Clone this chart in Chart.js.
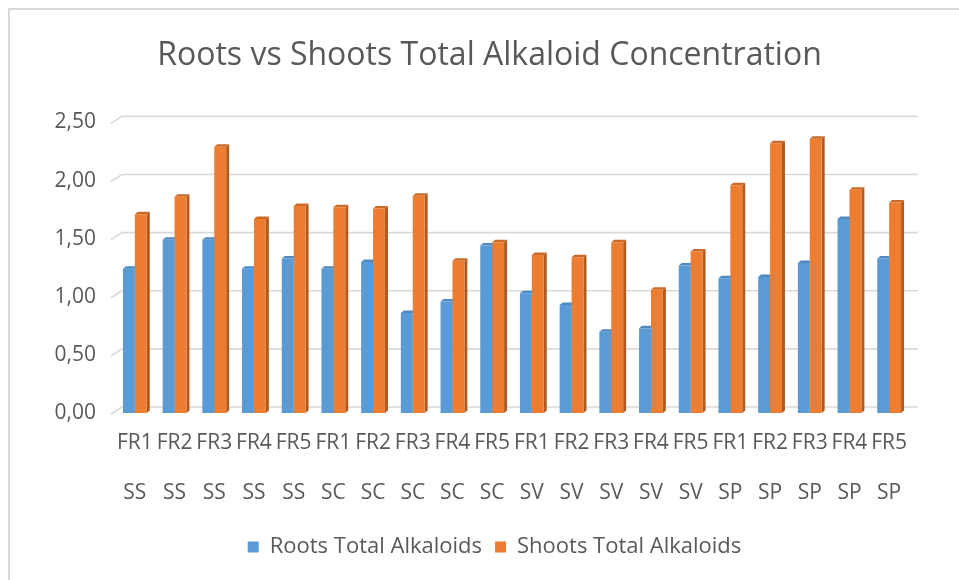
<!DOCTYPE html>
<html>
<head>
<meta charset="utf-8">
<title>Roots vs Shoots Total Alkaloid Concentration</title>
<script src="https://cdn.jsdelivr.net/npm/chart.js@4/dist/chart.umd.min.js"></script>
<style>
  html, body { margin: 0; padding: 0; background: #ffffff; overflow: hidden; }
  #wrap { position: relative; width: 959px; height: 580px; }
  #frame { position: absolute; left: 8px; top: 8px; width: 2000px; height: 2000px;
           border-left: 2px solid #d9d9d9; border-top: 2px solid #d9d9d9; }
  canvas { position: absolute; left: 0; top: 0; }
</style>
</head>
<body>
<div id="wrap">
  <div id="frame"></div>
  <canvas id="chart" width="959" height="580"></canvas>
</div>
<script>
// Treatments (first label line) and species groups (second label line)
const treatments = ['FR1','FR2','FR3','FR4','FR5','FR1','FR2','FR3','FR4','FR5',
                    'FR1','FR2','FR3','FR4','FR5','FR1','FR2','FR3','FR4','FR5'];
const groups = ['SS','SS','SS','SS','SS','SC','SC','SC','SC','SC',
                'SV','SV','SV','SV','SV','SP','SP','SP','SP','SP'];

// Total alkaloid concentration per sample
const rootsTotal  = [1.24, 1.49, 1.49, 1.24, 1.33, 1.24, 1.30, 0.86, 0.96, 1.44,
                     1.03, 0.93, 0.70, 0.73, 1.27, 1.16, 1.17, 1.29, 1.67, 1.33];
const shootsTotal = [1.71, 1.86, 2.29, 1.67, 1.78, 1.77, 1.76, 1.87, 1.31, 1.47,
                     1.36, 1.34, 1.47, 1.06, 1.39, 1.96, 2.32, 2.36, 1.92, 1.81];

// Value axis tick labels (decimal comma)
const yTickValues = [0, 0.5, 1, 1.5, 2, 2.5];
const yTickLabels = ['0,00', '0,50', '1,00', '1,50', '2,00', '2,50'];

const seriesNames = ['Roots Total Alkaloids', 'Shoots Total Alkaloids'];

const FONT = '"Open Sans", Lato, sans-serif';
const TEXT = '#595959';

const labels = treatments.map((t, i) => [t, groups[i]]);

// Shading for the extruded faces of each series
const faces = [
  { front: '#5b9bd5', side: '#41719c', top: '#4f89c0' },
  { front: '#ed7d31', side: '#ae5a21', top: '#c96a29' }
];

// Back-wall gridlines and column depth faces; title/legend centred on the plot
const depthPlugin = {
  id: 'depth',
  afterLayout(chart) {
    if (chart.titleBlock) chart.titleBlock.left += 70;
    if (chart.legend) chart.legend.left += 80;
  },
  beforeDatasetsDraw(chart) {
    const { ctx, chartArea, scales } = chart;
    const y = scales.y;
    ctx.save();
    ctx.strokeStyle = '#d9d9d9';
    ctx.lineWidth = 1.6;
    yTickValues.forEach(v => {
      const py = y.getPixelForValue(v);
      ctx.beginPath();
      ctx.moveTo(chartArea.left - 4, py + 1);
      ctx.lineTo(chartArea.left + 7, py - 6);
      ctx.lineTo(chartArea.right + 9, py - 6);
      ctx.stroke();
    });
    const d = 3, h = 2.5;
    chart.data.datasets.forEach((ds, di) => {
      const meta = chart.getDatasetMeta(di);
      const f = faces[di];
      meta.data.forEach(bar => {
        const p = bar.getProps(['x', 'y', 'base', 'width'], true);
        const l = p.x - p.width / 2, r = p.x + p.width / 2;
        ctx.fillStyle = f.side;
        ctx.beginPath();
        ctx.moveTo(r, p.y);
        ctx.lineTo(r + d, p.y - h);
        ctx.lineTo(r + d, p.base - h);
        ctx.lineTo(r, p.base);
        ctx.closePath();
        ctx.fill();
        ctx.fillStyle = f.top;
        ctx.beginPath();
        ctx.moveTo(l, p.y);
        ctx.lineTo(l + d, p.y - h);
        ctx.lineTo(r + d, p.y - h);
        ctx.lineTo(r, p.y);
        ctx.closePath();
        ctx.fill();
      });
    });
    ctx.restore();
  }
};

new Chart(document.getElementById('chart'), {
  type: 'bar',
  data: {
    labels: labels,
    datasets: [
      { label: seriesNames[0], data: rootsTotal, backgroundColor: faces[0].front, borderWidth: 0 },
      { label: seriesNames[1], data: shootsTotal, backgroundColor: faces[1].front, borderWidth: 0 }
    ]
  },
  options: {
    responsive: false,
    animation: false,
    layout: { padding: { top: 0, right: 50, bottom: 12, left: 0 } },
    datasets: { bar: { categoryPercentage: 0.6, barPercentage: 1.0 } },
    plugins: {
      title: {
        display: true,
        text: 'Roots vs Shoots Total Alkaloid Concentration',
        color: TEXT,
        font: { family: FONT, size: 32, weight: 'normal', lineHeight: 1.2 },
        padding: { top: 37, bottom: 47 }
      },
      legend: {
        position: 'bottom',
        labels: {
          color: TEXT,
          font: { family: FONT, size: 22, lineHeight: 1.2 },
          boxWidth: 11,
          boxHeight: 11,
          padding: 13
        }
      },
      tooltip: { enabled: false }
    },
    scales: {
      x: {
        grid: { display: false, drawTicks: false },
        border: { display: false },
        ticks: {
          color: TEXT,
          font: { family: FONT, size: 21, lineHeight: '50px' },
          padding: 5,
          maxRotation: 0,
          minRotation: 0,
          autoSkip: false
        }
      },
      y: {
        min: 0,
        max: 2.5,
        grid: { display: false, drawTicks: false },
        border: { display: false },
        afterFit(scale) { scale.width = 115; },
        afterBuildTicks(scale) { scale.ticks = yTickValues.map(v => ({ value: v })); },
        ticks: {
          color: TEXT,
          font: { family: FONT, size: 21 },
          padding: 19,
          callback(value) {
            const i = yTickValues.indexOf(value);
            return i >= 0 ? yTickLabels[i] : '';
          }
        }
      }
    }
  },
  plugins: [depthPlugin]
});
</script>
</body>
</html>
